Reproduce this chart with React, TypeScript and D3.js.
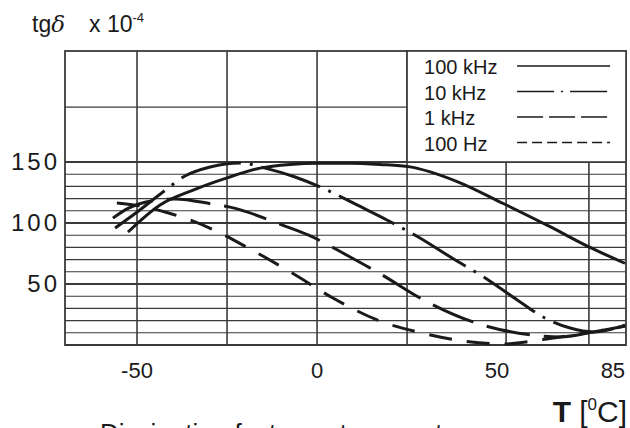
import React, { useRef, useEffect } from 'react';
import * as d3 from 'd3';

// temperature (°C) / tgδ (x 1e-4)
const temp100k = [-52.5, -43.6, -34.4, -25, -15.8, -7.5, 0, 9.2, 17.5, 25.8, 38.9, 51.7, 64.7, 75.8, 85.5];
const tg100k = [92.6, 114.8, 127, 137, 145, 148, 149, 149, 148, 146, 134, 116, 97, 80, 67];

const temp10k = [-56.1, -49.2, -42.8, -36.7, -29.7, -21.4, -14.4, -6.1, 2.8, 11.1, 19.4, 28.1, 37.5, 46.7, 55.6, 63.3, 70.3, 76.7, 85.6];
const tg10k = [95.9, 110.7, 125.4, 138.5, 145.9, 149.2, 145, 137.7, 127, 114.8, 102.5, 88.5, 71.3, 54.9, 36.9, 22.1, 13.9, 10.7, 16.4];

const temp1k = [-56.7, -52.5, -47.8, -39.4, -29.2, -24.2, -8.9, -2.5, 9.2, 18.1, 28.6, 43.3, 59.7, 67.5, 76.7, 85.6];
const tg1k = [104, 112, 117, 119.7, 115.6, 113, 97.5, 90.2, 72.1, 57.4, 38.5, 18.9, 8.2, 6.6, 10.7, 15.6];

const temp100 = [-55.6, -49.2, -42.2, -35.3, -29.2, -18.6, -6.9, 4.4, 18.1, 29.2, 40.6, 51.7, 61.9, 67.5, 76.7, 85.6];
const tg100 = [116.4, 114, 109, 102.5, 95, 78.7, 59, 38.5, 18.9, 9.8, 3.3, 0.8, 4.1, 6.6, 10.7, 15.6];

const seriesNames = ['100 kHz', '10 kHz', '1 kHz', '100 Hz'];

const xTickValues = [-50, 0, 50, 85];
const xTickLabels = ['-50', '0', '50', '85'];
const yTickValues = [150, 100, 50];
const vGridValues = [-50, -25, 0, 25, 52.5, 75.5];
const upperGridValues = [195];

const App: React.FC = () => {
	const svgRef = useRef<SVGSVGElement | null>(null);

	const width = 630;
	const height = 428;
	const marginTop = 51;
	const marginRight = 4;
	const marginBottom = 83;
	const marginLeft = 65;

	useEffect(() => {
		if (!svgRef.current) return;
		const svg = d3.select(svgRef.current);
		svg.selectAll('*').remove();

		const font = '"Liberation Sans", Arial, sans-serif';
		const ink = '#1a1a1a';
		const gridColor = '#3a3a3a';

		const x = d3.scaleLinear().domain([-70, 85.8]).range([marginLeft, width - marginRight]);
		const y = d3.scaleLinear().domain([0, 241]).range([height - marginBottom, marginTop]);

		const [x0, x1] = x.range();
		const [yb, yt] = y.range();

		// horizontal grid: every 10 units up to 150, plus one upper line
		const hGrid = d3.range(0, 151, 10).concat(upperGridValues);
		svg.append('g')
			.selectAll('line')
			.data(hGrid)
			.join('line')
			.attr('x1', x0)
			.attr('x2', x1)
			.attr('y1', d => y(d))
			.attr('y2', d => y(d))
			.attr('stroke', gridColor)
			.attr('stroke-width', d => (d % 50 === 0 ? 1.8 : 1.1));

		// vertical grid
		svg.append('g')
			.selectAll('line')
			.data(vGridValues)
			.join('line')
			.attr('x1', d => x(d))
			.attr('x2', d => x(d))
			.attr('y1', yt)
			.attr('y2', yb)
			.attr('stroke', gridColor)
			.attr('stroke-width', 1.6);

		// frame
		svg.append('rect')
			.attr('x', x0)
			.attr('y', yt)
			.attr('width', x1 - x0)
			.attr('height', yb - yt)
			.attr('fill', 'none')
			.attr('stroke', gridColor)
			.attr('stroke-width', 1.8);

		// curves
		const line = d3.line<[number, number]>()
			.x(d => x(d[0]))
			.y(d => y(d[1]))
			.curve(d3.curveMonotoneX);

		const series = [
			{ t: temp100k, v: tg100k, dash: null },
			{ t: temp10k, v: tg10k, dash: '62 9 3 9' },
			{ t: temp1k, v: tg1k, dash: '44 14' },
			{ t: temp100, v: tg100, dash: '23 15' },
		];

		series.forEach(s => {
			const pts = s.t.map((t, i) => [t, s.v[i]] as [number, number]);
			svg.append('path')
				.attr('d', line(pts))
				.attr('fill', 'none')
				.attr('stroke', ink)
				.attr('stroke-width', 3)
				.attr('stroke-linecap', 'butt')
				.attr('stroke-dasharray', s.dash);
		});

		// legend box (covers the grid above 150, right of 25 °C)
		const lx = x(25);
		const legend = svg.append('g');
		legend.append('rect')
			.attr('x', lx)
			.attr('y', yt)
			.attr('width', x1 - lx)
			.attr('height', y(150) - yt)
			.attr('fill', '#fff')
			.attr('stroke', gridColor)
			.attr('stroke-width', 1.6);

		const legendDash = [null, '37 7 2 7', '26 6', '10 5'];
		seriesNames.forEach((name, i) => {
			const by = 74 + i * 25.5;
			legend.append('text')
				.attr('x', lx + 17)
				.attr('y', by)
				.attr('font-family', font)
				.attr('font-size', 20)
				.attr('fill', ink)
				.text(name);
			legend.append('line')
				.attr('x1', lx + 110)
				.attr('x2', lx + 203)
				.attr('y1', by - 8)
				.attr('y2', by - 8)
				.attr('stroke', ink)
				.attr('stroke-width', 1.5)
				.attr('stroke-dasharray', legendDash[i]);
		});

		// y tick labels
		svg.append('g')
			.selectAll('text')
			.data(yTickValues)
			.join('text')
			.attr('x', x0 - 5)
			.attr('y', d => y(d) + 8)
			.attr('text-anchor', 'end')
			.attr('font-family', font)
			.attr('font-size', 24)
			.attr('letter-spacing', 3)
			.attr('fill', ink)
			.text(d => d);

		// x tick labels
		svg.append('g')
			.selectAll('text')
			.data(xTickValues)
			.join('text')
			.attr('x', (d, i) => (i === xTickValues.length - 1 ? x(d) + 2 : x(d)))
			.attr('y', yb + 33)
			.attr('text-anchor', (d, i) => (i === xTickValues.length - 1 ? 'end' : 'middle'))
			.attr('font-family', font)
			.attr('font-size', 22)
			.attr('fill', ink)
			.text((d, i) => xTickLabels[i]);

		// y title
		const yTitle = svg.append('text')
			.attr('x', 32)
			.attr('y', 32)
			.attr('font-family', font)
			.attr('font-size', 23)
			.attr('fill', ink);
		yTitle.append('tspan').text('tg');
		yTitle.append('tspan').attr('font-style', 'italic').attr('font-family', '"DejaVu Serif", serif').text('δ');
		yTitle.append('tspan').attr('dx', 24).text('x 10');
		yTitle.append('tspan').attr('font-size', 13).attr('dy', -10).text('-4');

		// x title
		const xTitle = svg.append('text')
			.attr('x', 627)
			.attr('y', 422)
			.attr('text-anchor', 'end')
			.attr('font-family', font)
			.attr('font-size', 30)
			.attr('fill', ink);
		xTitle.append('tspan').attr('font-weight', 'bold').text('T');
		xTitle.append('tspan').attr('dx', 8).text('[');
		xTitle.append('tspan').attr('font-size', 17).attr('dy', -12).text('0');
		xTitle.append('tspan').attr('dy', 12).text('C]');

		// caption, cut off by the bottom edge as in the source scan
		svg.append('text')
			.attr('x', 100)
			.attr('y', 442)
			.attr('font-family', font)
			.attr('font-size', 26)
			.attr('fill', ink)
			.text('Dissipation factor vs temperature');

		return () => { svg.selectAll('*').remove(); };
	}, []);

	return (
		<svg
			ref={svgRef}
			width={width}
			height={height}
			style={{ position: 'absolute', left: 0, top: 0, background: '#fff' }}
		/>
	);
};

export default App;
